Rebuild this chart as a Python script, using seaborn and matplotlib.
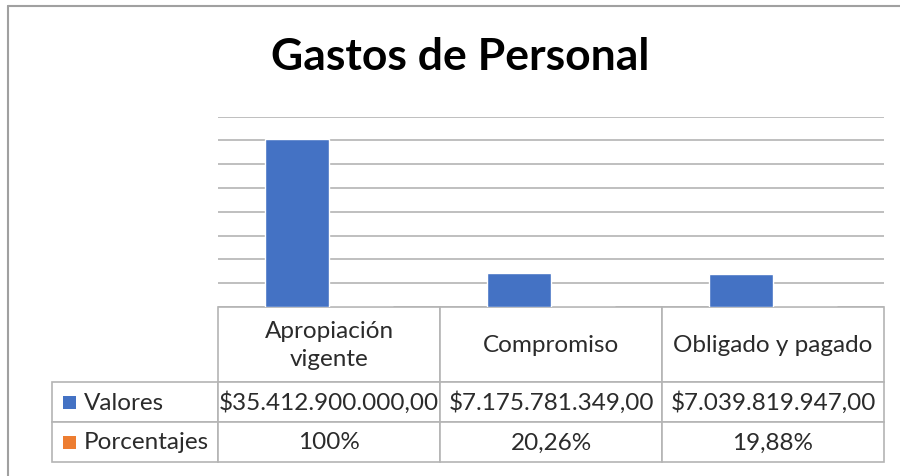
import numpy as np
import pandas as pd
import matplotlib
matplotlib.use("Agg")
import matplotlib.pyplot as plt
import seaborn as sns
from matplotlib.lines import Line2D
from matplotlib.patches import Rectangle
from matplotlib.table import Table

# ===================== DATA =====================
categorias  = ["Apropiación\nvigente", "Compromiso", "Obligado y pagado"]
series      = ["Valores", "Porcentajes"]
valores     = [35412900000.00, 7175781349.00, 7039819947.00]
porcentajes = [1.0, 0.2026, 0.1988]
colores     = ["#4472C4", "#ED7D31"]
titulo      = "Gastos de Personal"

def fmt_pesos(v):
    s = f"{v:,.2f}".replace(",", "X").replace(".", ",").replace("X", ".")
    return "$" + s

def fmt_pct(p):
    if abs(p * 100 - round(p * 100)) < 1e-9:
        return f"{p*100:.0f}%"
    return f"{p*100:.2f}%".replace(".", ",")

df = pd.DataFrame({
    "categoria": categorias * 2,
    "serie":     [series[0]] * 3 + [series[1]] * 3,
    "valor":     valores + porcentajes,
})

# ===================== PLOT =====================
sns.set_style("white")
plt.rcParams["font.family"] = ["Lato", "DejaVu Sans"]
TXT = "#2b2b2b"
GRID = "#b4b4b4"

W, H = 900, 477
fig = plt.figure(figsize=(W / 100, H / 100), dpi=100)
ax_l, ax_r, ax_t, ax_b = 218, 884, 117.7, 308
ax = fig.add_axes([ax_l / W, 1 - ax_b / H, (ax_r - ax_l) / W, (ax_b - ax_t) / H])

sns.barplot(data=df, x="categoria", y="valor", hue="serie", hue_order=series,
            order=categorias, palette=colores, width=0.577, gap=0,
            saturation=1, legend=False, ax=ax)

ax.set_ylim(0, 40e9)
ax.set_yticks(np.arange(0, 40e9 + 1, 5e9))
ax.set_xlim(-0.5, len(categorias) - 0.5)
ax.yaxis.grid(True, color=GRID, linewidth=1.2)
ax.set_axisbelow(True)
ax.tick_params(left=False, bottom=False, labelleft=False, labelbottom=False)
ax.set_xlabel(""); ax.set_ylabel("")
for s in ax.spines.values():
    s.set_visible(False)

# ===================== DATA TABLE =====================
ax_h = ax_b - ax_t
filas = [[fmt_pesos(v) for v in valores],
         [fmt_pct(p) for p in porcentajes]]
tbl = Table(ax, bbox=[(52 - ax_l) / 666, -(463 - ax_b) / ax_h,
                      (884 - 52) / 666, (463 - ax_b) / ax_h])
FS = 17.5
for j, cat in enumerate(categorias):
    tbl.add_cell(0, j + 1, width=222, height=75, text=cat, loc="center")
for i, (serie, fila) in enumerate(zip(series, filas)):
    lab = tbl.add_cell(i + 1, 0, width=166, height=40, text=serie, loc="left")
    lab.PAD = 32 / 166
    for j, txt in enumerate(fila):
        tbl.add_cell(i + 1, j + 1, width=222, height=40, text=txt, loc="center")
tbl.auto_set_font_size(False)
for (r, c), cell in tbl.get_celld().items():
    cell.set_edgecolor(GRID)
    cell.set_linewidth(1.2)
    cell.get_text().set_color(TXT)
    cell.get_text().set_fontsize(FS)
    if r == 0:
        cell.get_text().set_linespacing(1.45)
ax.add_table(tbl)

# legend keys in row label cells
for i, col in enumerate(colores):
    yc = 403 + i * 40
    fig.add_artist(Rectangle((63 / W, 1 - (yc + 6.5) / H), 13 / W, 13 / H,
                             transform=fig.transFigure, facecolor=col,
                             edgecolor="none"))

# ===================== TITLE & BORDER =====================
fig.text(460 / W, 1 - 57 / H, titulo, ha="center", va="center",
         fontsize=32, fontweight="bold", color="black")
fig.add_artist(Line2D([8 / W, 8 / W], [0, 1 - 7 / H], transform=fig.transFigure,
                      color="#a0a0a0", linewidth=1.5))
fig.add_artist(Line2D([8 / W, 1], [1 - 7 / H, 1 - 7 / H], transform=fig.transFigure,
                      color="#a0a0a0", linewidth=1.5))

fig.savefig("out.png", dpi=100)
plt.close(fig)
